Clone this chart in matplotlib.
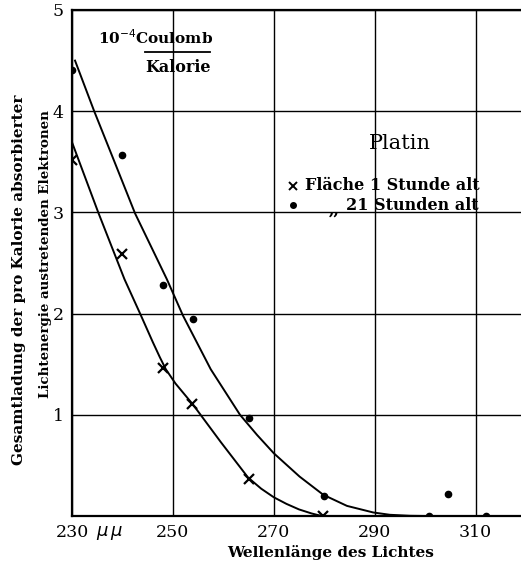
import numpy as np
import matplotlib
matplotlib.use("Agg")
import matplotlib.pyplot as plt
from matplotlib.lines import Line2D

plt.rcParams['font.family'] = 'DejaVu Serif'

# measured points
x_1h = [230, 240, 248, 253.8, 265, 279.7]
y_1h = [3.52, 2.59, 1.46, 1.11, 0.37, 0.0]
x_21h = [230, 240, 248, 254, 265, 280, 304.5, 300.7, 312]
y_21h = [4.41, 3.57, 2.28, 1.95, 0.97, 0.20, 0.22, 0.0, 0.0]

# hand-drawn curves
cx_1h = [230.1, 235.2, 240.4, 243.5, 246.0, 247.4, 248.6, 250.5, 254.0, 259.5,
         264.9, 267.5, 270.0, 272.5, 275.0, 277.5, 279.5]
cy_1h = [3.68, 3.00, 2.34, 2.00, 1.72, 1.57, 1.45, 1.31, 1.10, 0.73,
         0.38, 0.27, 0.185, 0.12, 0.065, 0.025, 0.0]
cx_21h = [230.6, 234.4, 238.5, 242.5, 245.7, 248.8, 252.0, 257.5, 263.3, 266.7,
          270.0, 275.1, 279.8, 284.5, 289.7, 293.0, 297.0, 300.0, 319.0]
cy_21h = [4.50, 4.00, 3.49, 2.99, 2.66, 2.34, 1.98, 1.45, 1.00, 0.80,
          0.62, 0.39, 0.21, 0.10, 0.035, 0.012, 0.002, 0.0, 0.0]

xticks = [230, 250, 270, 290, 310]
yticks = [1, 2, 3, 4, 5]

W, H = 521, 569
fig = plt.figure(figsize=(W / 100, H / 100), dpi=100)
ax = fig.add_axes([72 / W, 1 - 516 / H, 1 - 72 / W, (516 - 10) / H])


def fx(px):
    return px / W


def fy(py):
    return 1 - py / H


ax.plot(cx_1h, cy_1h, color='k', lw=1.4)
ax.plot(cx_21h, cy_21h, color='k', lw=1.4)
ax.plot(x_1h, y_1h, 'x', color='k', ms=7, mew=1.6)
ax.plot(x_21h, y_21h, 'o', color='k', ms=4.5)

ax.set_xlim(230, 319)
ax.set_ylim(0, 5)
ax.set_xticks(xticks)
ax.set_xticklabels([str(t) for t in xticks])
ax.set_yticks(yticks)
ax.tick_params(length=0, labelsize=12.5, pad=6)
ax.grid(True, color='k', lw=1.0)
for s in ['left', 'bottom', 'top']:
    ax.spines[s].set_linewidth(1.6)
ax.spines['right'].set_visible(False)

fig.text(fx(110), fy(533), r'$\mu\,\mu$', fontsize=13, ha='center', va='center')
fig.text(fx(331), fy(553), 'Wellenlänge des Lichtes', fontsize=11, fontweight='bold',
         ha='center', va='center')
fig.text(fx(19), fy(280), 'Gesamtladung der pro Kalorie absorbierter', fontsize=11,
         fontweight='bold', rotation=90, ha='center', va='center')
fig.text(fx(46), fy(254), 'Lichtenergie austretenden Elektronen', fontsize=9.6,
         fontweight='bold', rotation=90, ha='center', va='center')

# unit in the corner
fig.text(fx(156), fy(38), r'10$^{-4}$Coulomb', fontsize=11, fontweight='bold',
         ha='center', va='center')
fig.add_artist(Line2D([fx(145), fx(210)], [fy(52), fy(52)], color='k', lw=1.3))
fig.text(fx(178), fy(68), 'Kalorie', fontsize=11.5, fontweight='bold', ha='center', va='center')

# legend
fig.text(fx(400), fy(143), 'Platin', fontsize=15, ha='center', va='center')
fig.add_artist(Line2D([fx(293)], [fy(186)], marker='x', color='k', ms=6, mew=1.4))
fig.text(fx(305), fy(186), 'Fläche 1 Stunde alt', fontsize=11.5, fontweight='bold',
         ha='left', va='center')
fig.add_artist(Line2D([fx(293)], [fy(205)], marker='o', color='k', ms=4))
fig.text(fx(334), fy(210), ',,', fontsize=11.5, fontweight='bold', ha='center', va='center')
fig.text(fx(346), fy(205), '21 Stunden alt', fontsize=11.5, fontweight='bold',
         ha='left', va='center')

fig.savefig('out.png', dpi=100)
